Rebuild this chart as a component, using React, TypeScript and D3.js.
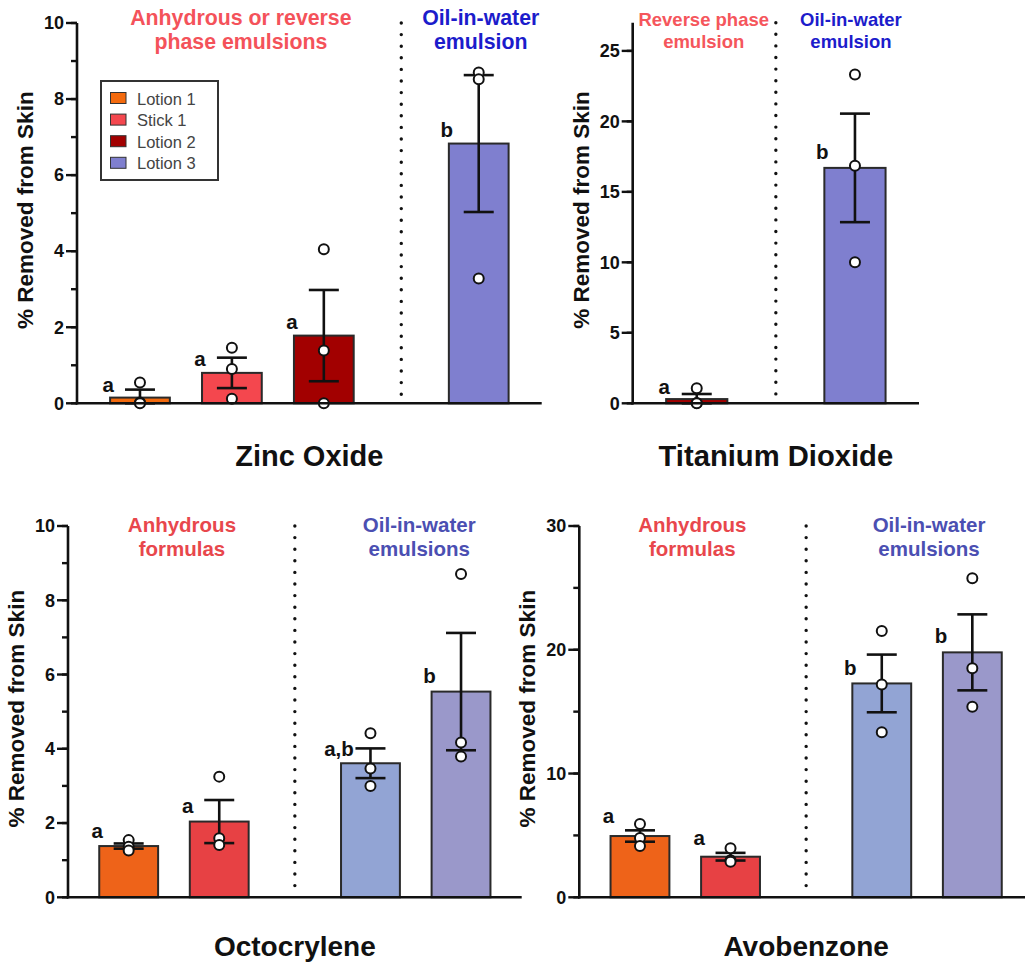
import React from "react";
import * as d3 from "d3";

// ---------------- DATA ----------------
const znoCategories = ["Lotion 1", "Stick 1", "Lotion 2", "Lotion 3"];
const znoMeans = [0.15, 0.8, 1.78, 6.83];
const znoSem = [0.21, 0.4, 1.2, 1.8];
const znoPoints = [[0.55, 0.02, 0.0], [1.46, 0.9, 0.12], [4.05, 1.39, 0.0], [8.7, 8.52, 3.28]];
const znoLetters = ["a", "a", "a", "b"];
const znoGroups = [0, 0, 0, 1];

const tioCategories = ["Lotion 2", "Lotion 3"];
const tioMeans = [0.3, 16.7];
const tioSem = [0.36, 3.85];
const tioPoints = [[1.06, 0.02, 0.0], [23.33, 16.85, 10.0]];
const tioLetters = ["a", "b"];
const tioGroups = [0, 1];

const octCategories = ["Lotion 1", "Stick 1", "Lotion 4", "Lotion 5"];
const octMeans = [1.38, 2.04, 3.61, 5.54];
const octSem = [0.07, 0.58, 0.4, 1.58];
const octPoints = [[1.54, 1.36, 1.26], [3.25, 1.59, 1.41], [4.42, 3.47, 3.0], [8.71, 4.17, 3.79]];
const octLetters = ["a", "a", "a,b", "b"];
const octGroups = [0, 0, 1, 1];

const avoCategories = ["Lotion 1", "Stick 1", "Lotion 4", "Lotion 5"];
const avoMeans = [4.95, 3.28, 17.28, 19.79];
const avoSem = [0.46, 0.31, 2.33, 3.07];
const avoPoints = [[5.92, 4.8, 4.15], [3.96, 3.0, 2.88], [21.51, 17.2, 13.33], [25.77, 18.5, 15.4]];
const avoLetters = ["a", "a", "b", "b"];
const avoGroups = [0, 0, 1, 1];

const legendLabels = ["Lotion 1", "Stick 1", "Lotion 2", "Lotion 3"];

// ---------------- STYLES ----------------
const topColors: Record<string, string> = {
  "Lotion 1": "#F36A0E",
  "Stick 1": "#F4474E",
  "Lotion 2": "#A20000",
  "Lotion 3": "#7F7FCF",
};
const bottomColors: Record<string, string> = {
  "Lotion 1": "#EE6319",
  "Stick 1": "#E74144",
  "Lotion 4": "#92A4D4",
  "Lotion 5": "#9A98CA",
};

const FONT = "Arial, 'Liberation Sans', Helvetica, sans-serif";

type Spec = {
  key: string;
  categories: string[];
  means: number[];
  sem: number[];
  points: number[][];
  letters: string[];
  groups: number[];
  colors: Record<string, string>;
  x0: number;
  x1: number;
  y0: number;
  yTopPx: number;
  yMax: number;
  tickMax: number;
  major: number;
  minor: number;
  gap: number;
  outer: number;
  title: string;
  titleY: number;
  titleSize: number;
  groupTitles: string[][];
  groupColors: string[];
  groupDx: number[];
  groupSize: number;
  groupY: number[];
  letterGap: number[];
  legend?: boolean;
};

const specs: Spec[] = [
  {
    key: "zno",
    categories: znoCategories, means: znoMeans, sem: znoSem, points: znoPoints,
    letters: znoLetters, groups: znoGroups, colors: topColors,
    x0: 77, x1: 541.7, y0: 403.3, yTopPx: 23, yMax: 10, tickMax: 10, major: 2, minor: 1,
    gap: 0.685, outer: 0.685,
    title: "Zinc Oxide", titleY: 466, titleSize: 29,
    groupTitles: [["Anhydrous or reverse", "phase emulsions"], ["Oil-in-water", "emulsion"]],
    groupColors: ["#F4525A", "#1C1CCB"], groupDx: [9, 2], groupSize: 21.3, groupY: [25, 49],
    letterGap: [6, 7, 7, 7],
    legend: true,
  },
  {
    key: "tio",
    categories: tioCategories, means: tioMeans, sem: tioSem, points: tioPoints,
    letters: tioLetters, groups: tioGroups, colors: topColors,
    x0: 632.7, x1: 919, y0: 403.3, yTopPx: 22.7, yMax: 27, tickMax: 25, major: 5, minor: 5,
    gap: 0.68, outer: 0.68,
    title: "Titanium Dioxide", titleY: 466, titleSize: 29.2,
    groupTitles: [["Reverse phase", "emulsion"], ["Oil-in-water", "emulsion"]],
    groupColors: ["#F5565C", "#1C1CCB"], groupDx: [7, -4], groupSize: 18.5, groupY: [26, 48],
    letterGap: [5, 9],
  },
  {
    key: "oct",
    categories: octCategories, means: octMeans, sem: octSem, points: octPoints,
    letters: octLetters, groups: octGroups, colors: bottomColors,
    x0: 68, x1: 521.7, y0: 897.3, yTopPx: 526, yMax: 10, tickMax: 10, major: 2, minor: 1,
    gap: 0.67, outer: 0.67,
    title: "Octocrylene", titleY: 956, titleSize: 28,
    groupTitles: [["Anhydrous", "formulas"], ["Oil-in-water", "emulsions"]],
    groupColors: ["#E8474C", "#4B4FB2"], groupDx: [8, 3.5], groupSize: 20.5, groupY: [532, 556],
    letterGap: [8, 9, 7, 9],
  },
  {
    key: "avo",
    categories: avoCategories, means: avoMeans, sem: avoSem, points: avoPoints,
    letters: avoLetters, groups: avoGroups, colors: bottomColors,
    x0: 579.3, x1: 1033, y0: 897.3, yTopPx: 526, yMax: 30, tickMax: 30, major: 10, minor: 5,
    gap: 0.67, outer: 0.67,
    title: "Avobenzone", titleY: 956, titleSize: 28,
    groupTitles: [["Anhydrous", "formulas"], ["Oil-in-water", "emulsions"]],
    groupColors: ["#E8474C", "#4B4FB2"], groupDx: [7, 2], groupSize: 20.5, groupY: [532, 556],
    letterGap: [13, 12, 8, 9.5],
  },
];

function Panel({ s }: { s: Spec }) {
  const slots = s.categories.map((_, i) => i + s.groups[i] * s.gap);
  const x = d3
    .scaleLinear()
    .domain([-s.outer, slots[slots.length - 1] + s.outer])
    .range([s.x0, s.x1]);
  const step = x(1) - x(0);
  const bw = step * 0.65;
  const y = d3.scaleLinear().domain([0, s.yMax]).range([s.y0, s.yTopPx]);

  const minorTicks = d3.range(0, s.tickMax + 1e-9, s.minor);
  const majorTicks = d3.range(0, s.tickMax + 1e-9, s.major);

  const lastG0 = s.groups.lastIndexOf(0);
  const firstG1 = s.groups.indexOf(1);
  const sepX = x((slots[lastG0] + slots[firstG1]) / 2);

  const groupIds = [0, 1];
  const groupCenters = groupIds.map((g) => {
    const cs = slots.filter((_, i) => s.groups[i] === g).map((v) => x(v));
    return d3.mean(cs) as number;
  });

  const axisMid = (s.x0 + Math.min(s.x1, 1025 + 8)) / 2;
  const yLabelCenter = (s.y0 + y(s.yMax)) / 2 - 3;

  return (
    <g>
      {/* group titles */}
      {s.groupTitles.map((lines, g) => (
        <text
          key={"gt" + g}
          x={groupCenters[g] + s.groupDx[g]}
          textAnchor="middle"
          fontFamily={FONT}
          fontWeight="bold"
          fontSize={s.groupSize}
          fill={s.groupColors[g]}
        >
          {lines.map((ln, li) => (
            <tspan key={li} x={groupCenters[g] + s.groupDx[g]} y={s.groupY[li]}>
              {ln}
            </tspan>
          ))}
        </text>
      ))}

      {/* separator */}
      <line
        x1={sepX}
        x2={sepX}
        y1={y(s.yMax)}
        y2={s.y0 - 5}
        stroke="#111"
        strokeWidth={3.4}
        strokeLinecap="round"
        strokeDasharray="0 11.6"
      />

      {/* bars */}
      {s.categories.map((c, i) => (
        <rect
          key={"b" + i}
          x={x(slots[i]) - bw / 2}
          y={y(s.means[i])}
          width={bw}
          height={s.y0 - y(s.means[i])}
          fill={s.colors[c]}
          stroke="#2a2a2a"
          strokeWidth={2}
        />
      ))}

      {/* error bars */}
      {s.categories.map((c, i) => {
        const cx = x(slots[i]);
        const hi = y(s.means[i] + s.sem[i]);
        const lo = y(Math.max(0, s.means[i] - s.sem[i]));
        return (
          <g key={"e" + i} stroke="#111" strokeWidth={2.6}>
            <line x1={cx} x2={cx} y1={hi} y2={lo} />
            <line x1={cx - 15} x2={cx + 15} y1={hi} y2={hi} />
            <line x1={cx - 15} x2={cx + 15} y1={lo} y2={lo} />
          </g>
        );
      })}

      {/* points */}
      {s.points.map((pts, i) =>
        pts.map((v, j) => (
          <circle
            key={"p" + i + "_" + j}
            cx={x(slots[i])}
            cy={y(v)}
            r={5}
            fill="#fff"
            stroke="#111"
            strokeWidth={2}
          />
        ))
      )}

      {/* letters */}
      {s.letters.map((l, i) => (
        <text
          key={"l" + i}
          x={x(slots[i]) - bw / 2 - 2}
          y={y(s.means[i]) - s.letterGap[i]}
          textAnchor="middle"
          fontFamily={FONT}
          fontWeight="bold"
          fontSize={20.5}
          fill="#111"
        >
          {l}
        </text>
      ))}

      {/* y axis */}
      <line x1={s.x0} x2={s.x0} y1={y(s.yMax)} y2={s.y0 + 1.3} stroke="#111" strokeWidth={2.6} />
      {minorTicks.map((t) => (
        <line
          key={"mt" + t}
          x1={s.x0 - 6}
          x2={s.x0}
          y1={y(t)}
          y2={y(t)}
          stroke="#111"
          strokeWidth={2.4}
        />
      ))}
      {majorTicks.map((t) => (
        <g key={"Mt" + t}>
          <line x1={s.x0 - 11} x2={s.x0} y1={y(t)} y2={y(t)} stroke="#111" strokeWidth={2.4} />
          <text
            x={s.x0 - 13}
            y={y(t) + 6.3}
            textAnchor="end"
            fontFamily={FONT}
            fontWeight="bold"
            fontSize={18}
            fill="#111"
          >
            {t}
          </text>
        </g>
      ))}

      {/* x axis */}
      <line x1={s.x0 - 1.3} x2={s.x1} y1={s.y0} y2={s.y0} stroke="#111" strokeWidth={2.6} />

      {/* y label */}
      <text
        transform={`translate(${s.x0 - 44},${yLabelCenter}) rotate(-90)`}
        textAnchor="middle"
        fontFamily={FONT}
        fontWeight="bold"
        fontSize={22.5}
        fill="#111"
      >
        % Removed from Skin
      </text>

      {/* panel title */}
      <text
        x={axisMid}
        y={s.titleY}
        textAnchor="middle"
        fontFamily={FONT}
        fontWeight="bold"
        fontSize={s.titleSize}
        fill="#111"
      >
        {s.title}
      </text>

      {s.legend && (
        <g>
          <rect x={101} y={81} width={117} height={99} fill="#fff" stroke="#333" strokeWidth={2} />
          {legendLabels.map((lab, i) => (
            <g key={"lg" + i}>
              <rect
                x={110.5}
                y={92.5 + i * 21.6}
                width={15.5}
                height={11}
                fill={topColors[lab]}
                stroke="#333"
                strokeWidth={1}
              />
              <text
                x={137}
                y={104.5 + i * 21.6}
                fontFamily={FONT}
                fontSize={16.5}
                fill="#444"
              >
                {lab}
              </text>
            </g>
          ))}
        </g>
      )}
    </g>
  );
}

export default function App() {
  return (
    <svg
      width={1025}
      height={965}
      viewBox="0 0 1025 965"
      style={{ position: "absolute", left: 0, top: 0, background: "#fff" }}
    >
      <rect x={0} y={0} width={1025} height={965} fill="#fff" />
      {specs.map((s) => (
        <Panel key={s.key} s={s} />
      ))}
    </svg>
  );
}
